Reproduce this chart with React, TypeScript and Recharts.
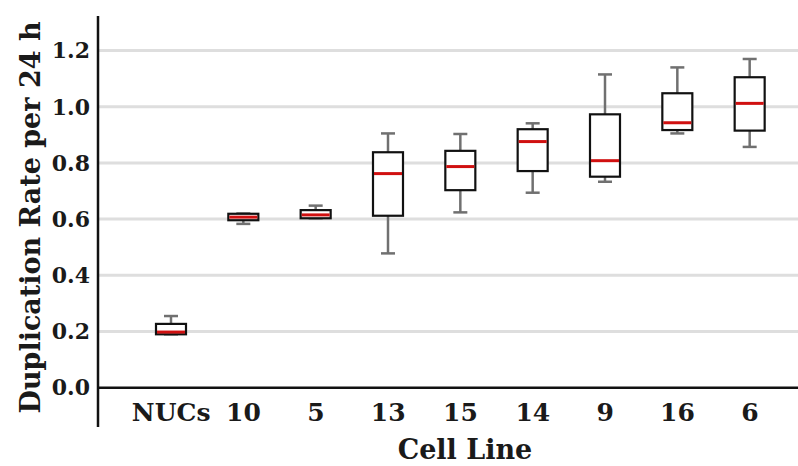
import React from 'react';
import { ComposedChart, Bar, XAxis, YAxis, CartesianGrid, ReferenceLine } from 'recharts';

const cellLines = ['NUCs', '10', '5', '13', '15', '14', '9', '16', '6'];
const mins = [0.19, 0.583, 0.603, 0.478, 0.624, 0.694, 0.733, 0.905, 0.857];
const q1s = [0.19, 0.596, 0.603, 0.612, 0.703, 0.771, 0.751, 0.917, 0.915];
const medians = [0.198, 0.607, 0.615, 0.762, 0.787, 0.876, 0.808, 0.943, 1.012];
const q3s = [0.227, 0.619, 0.632, 0.838, 0.843, 0.92, 0.973, 1.048, 1.105];
const maxs = [0.255, 0.62, 0.648, 0.905, 0.903, 0.941, 1.115, 1.14, 1.17];
const yTicks = [0, 0.2, 0.4, 0.6, 0.8, 1.0, 1.2];

const data = cellLines.map((name, i) => ({
  name,
  min: mins[i],
  q1: q1s[i],
  median: medians[i],
  q3: q3s[i],
  max: maxs[i],
}));

const FONT = '"DejaVu Serif", serif';

const BoxShape = (props: any) => {
  const { x, y, width, height, payload } = props;
  const yHi = Math.min(y, y + height);
  const yLo = Math.max(y, y + height);
  const toY = (v: number) => yHi + ((payload.max - v) / (payload.max - payload.min)) * (yLo - yHi);
  const cx = x + width / 2;
  const cap = 7;
  return (
    <g>
      <line x1={cx} x2={cx} y1={toY(payload.max)} y2={toY(payload.q3)} stroke="#707070" strokeWidth={2.5} />
      <line x1={cx} x2={cx} y1={toY(payload.q1)} y2={toY(payload.min)} stroke="#707070" strokeWidth={2.5} />
      <line x1={cx - cap} x2={cx + cap} y1={toY(payload.max)} y2={toY(payload.max)} stroke="#707070" strokeWidth={2.5} />
      <line x1={cx - cap} x2={cx + cap} y1={toY(payload.min)} y2={toY(payload.min)} stroke="#707070" strokeWidth={2.5} />
      <rect x={x} y={toY(payload.q3)} width={width} height={toY(payload.q1) - toY(payload.q3)} fill="#fff" stroke="#111" strokeWidth={2.2} />
      <line x1={x + 1} x2={x + width - 1} y1={toY(payload.median)} y2={toY(payload.median)} stroke="#d01010" strokeWidth={3} />
    </g>
  );
};

const XTick = (props: any) => {
  const { x, y, payload } = props;
  return (
    <text x={x} y={y} dy={-14} textAnchor="middle" fontFamily={FONT} fontWeight="bold" fontSize={25} fill="#1a1a1a">
      {payload.value}
    </text>
  );
};

const YLabel = (props: any) => {
  const { viewBox } = props;
  const cx = 30;
  const cy = viewBox.y + viewBox.height / 2 - 4;
  return (
    <text x={cx} y={cy} transform={`rotate(-90, ${cx}, ${cy})`} textAnchor="middle" dominantBaseline="central" fontFamily={FONT} fontWeight="bold" fontSize={27} fill="#1a1a1a">
      Duplication Rate per 24 h
    </text>
  );
};

const XLabel = (props: any) => {
  const { viewBox } = props;
  const cx = viewBox.x + viewBox.width / 2 + 17;
  return (
    <text x={cx} y={459} textAnchor="middle" fontFamily={FONT} fontWeight="bold" fontSize={27} fill="#1a1a1a">
      Cell Line
    </text>
  );
};

export default function App() {
  return (
    <div style={{ position: 'absolute', left: 0, top: 0, width: 798, height: 466, background: '#fff' }}>
      <ComposedChart width={798} height={466} data={data} margin={{ top: 16, right: 0, bottom: 0, left: 0 }}>
        <CartesianGrid vertical={false} stroke="#dedede" strokeWidth={3} horizontalValues={yTicks.filter((v) => v > 0)} />
        <XAxis
          dataKey="name"
          axisLine={false}
          tickLine={false}
          height={39}
          padding={{ left: 37, right: 12 }}
          tick={<XTick />}
          interval={0}
          label={<XLabel />}
        />
        <YAxis
          width={98}
          domain={[-0.14, 1.323]}
          ticks={yTicks}
          allowDataOverflow
          tickFormatter={(v: number) => v.toFixed(1)}
          axisLine={{ stroke: '#111', strokeWidth: 2.5 }}
          tickLine={false}
          tick={{ fontFamily: FONT, fontWeight: 'bold', fontSize: 22, fill: '#1a1a1a' }}
          label={<YLabel />}
        />
        <ReferenceLine y={0} stroke="#111" strokeWidth={2.5} />
        <Bar dataKey={(d: any) => [d.min, d.max]} barSize={30} shape={<BoxShape />} isAnimationActive={false} />
      </ComposedChart>
    </div>
  );
}
